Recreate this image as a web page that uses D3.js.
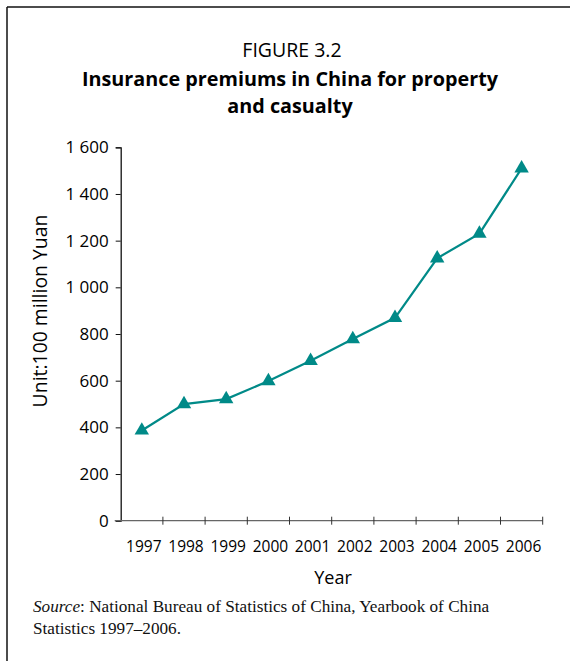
<!DOCTYPE html>
<html>
<head>
<meta charset="utf-8">
<script src="https://cdn.jsdelivr.net/npm/d3@7"></script>
<style>
  html, body { margin: 0; padding: 0; background: #fff; }
  svg { display: block; }
</style>
</head>
<body>
<svg id="chart" width="570" height="661"></svg>
<script>
// ---- data ----
const years = ["1997", "1998", "1999", "2000", "2001", "2002", "2003", "2004", "2005", "2006"];
const premiums = [386.7, 499.6, 521.1, 598.4, 685.4, 778.3, 869.4, 1124.6, 1229.9, 1509.4];
const yTicks = [0, 200, 400, 600, 800, 1000, 1200, 1400, 1600];
const figureLabel = "FIGURE 3.2";
const titleLines = ["Insurance premiums in China for property", "and casualty"];
const yAxisTitle = "Unit:100 million Yuan";
const xAxisTitle = "Year";

const svg = d3.select("#chart");
const sansFont = "'Open Sans', 'Noto Sans', sans-serif";
const serifFont = "'Liberation Serif', 'DejaVu Serif', serif";
const teal = "#008a88";
const ink = "#000";

// frame (top and left rule)
svg.append("line").attr("x1", 7).attr("y1", 7).attr("x2", 570).attr("y2", 7)
  .attr("stroke", "#111").attr("stroke-width", 1.5);
svg.append("line").attr("x1", 7).attr("y1", 7).attr("x2", 7).attr("y2", 661)
  .attr("stroke", "#111").attr("stroke-width", 1.5);

// titles
svg.append("text").attr("x", 292).attr("y", 57).attr("text-anchor", "middle")
  .attr("font-family", sansFont).attr("font-size", 19.5).attr("fill", ink)
  .text(figureLabel);
titleLines.forEach((t, i) => {
  svg.append("text").attr("x", 290).attr("y", 86 + i * 27).attr("text-anchor", "middle")
    .attr("font-family", sansFont).attr("font-size", 19.8).attr("font-weight", "bold").attr("fill", ink)
    .text(t);
});

// scales
const plotLeft = 120.7, plotRight = 542.7, plotTop = 147.3, plotBottom = 520.7;
const x = d3.scaleBand().domain(years).range([plotLeft, plotRight]).paddingInner(0).paddingOuter(0);
const y = d3.scaleLinear().domain([0, 1600]).range([plotBottom, plotTop]);

// y axis
const yAxis = d3.axisLeft(y).tickValues(yTicks).tickSize(5).tickPadding(7)
  .tickFormat(d => d3.format(",")(d).replace(/,/g, " "));
const gy = svg.append("g").attr("transform", `translate(${plotLeft},0)`).call(yAxis);
gy.select(".domain").attr("stroke", "#111").attr("stroke-width", 1.3);
gy.selectAll(".tick line").attr("stroke", "#111").attr("stroke-width", 1);
gy.selectAll(".tick text").attr("font-family", sansFont).attr("font-size", 17).attr("fill", ink)
  .attr("font-weight", 500);

// x axis: ticks at band edges, crossing the axis line
const gx = svg.append("g").attr("transform", `translate(0,${plotBottom})`);
gx.append("line").attr("x1", plotLeft - 6).attr("x2", plotRight).attr("y1", 0).attr("y2", 0)
  .attr("stroke", "#666").attr("stroke-width", 1.3);
const edges = years.map(d => x(d) + x.bandwidth());
gx.selectAll("line.edge").data(edges).join("line").attr("class", "edge")
  .attr("x1", d => d).attr("x2", d => d).attr("y1", -4).attr("y2", 4)
  .attr("stroke", "#333").attr("stroke-width", 1);
gx.selectAll("text.lbl").data(years).join("text").attr("class", "lbl")
  .attr("x", d => x(d) + x.bandwidth() / 2 + 2).attr("y", 31.5)
  .attr("text-anchor", "middle").attr("font-family", sansFont).attr("font-size", 15.5).attr("fill", ink)
  .attr("font-weight", 500)
  .text(d => d);

// axis titles
svg.append("text").attr("x", 333).attr("y", 584).attr("text-anchor", "middle")
  .attr("font-family", sansFont).attr("font-size", 18).attr("fill", ink).text(xAxisTitle);
svg.append("text").attr("transform", "translate(47,311) rotate(-90)").attr("text-anchor", "middle")
  .attr("font-family", sansFont).attr("font-size", 19.4).attr("fill", ink).text(yAxisTitle);

// line + markers
const pts = years.map((d, i) => ({ year: d, value: premiums[i] }));
const line = d3.line().x(d => x(d.year) + x.bandwidth() / 2).y(d => y(d.value));
svg.append("path").datum(pts).attr("d", line).attr("fill", "none")
  .attr("stroke", teal).attr("stroke-width", 2.2);
const tri = d3.symbol().type(d3.symbolTriangle).size(90);
svg.selectAll("path.pt").data(pts).join("path").attr("class", "pt")
  .attr("d", tri)
  .attr("transform", d => `translate(${x(d.year) + x.bandwidth() / 2},${y(d.value)})`)
  .attr("fill", teal);

// source note
const src = svg.append("text").attr("x", 33).attr("y", 612)
  .attr("font-family", serifFont).attr("font-size", 17.2).attr("fill", "#111");
src.append("tspan").attr("font-style", "italic").text("Source");
src.append("tspan").text(": National Bureau of Statistics of China, Yearbook of China");
svg.append("text").attr("x", 33).attr("y", 634)
  .attr("font-family", serifFont).attr("font-size", 17.2).attr("fill", "#111")
  .text("Statistics 1997\u20132006.");
</script>
</body>
</html>
